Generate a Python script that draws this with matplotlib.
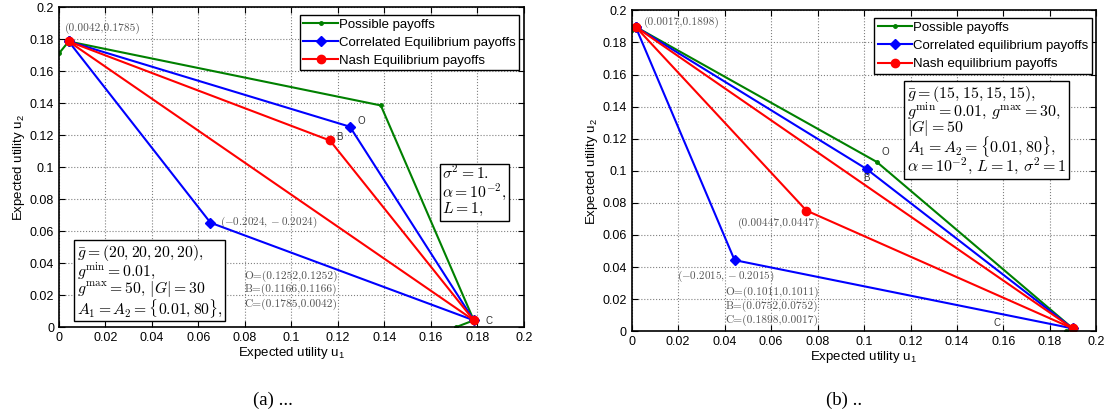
import numpy as np
import matplotlib
matplotlib.use('Agg')
import matplotlib.pyplot as plt

plt.rcParams['font.family'] = ['Liberation Sans', 'DejaVu Sans']
plt.rcParams['mathtext.fontset'] = 'cm'

# ---- data, panel (a) ----
a_top = (0.0042, 0.1785)
a_C = (0.1785, 0.0042)
a_poss_x = [0.0, 0.0042, 0.1385, 0.1785, 0.171]
a_poss_y = [0.171, 0.1785, 0.1385, 0.0042, 0.0]
a_corr_x = [0.0042, 0.1252, 0.1785, 0.0652, 0.0042]
a_corr_y = [0.1785, 0.1252, 0.0042, 0.0652, 0.1785]
a_nash_x = [0.0042, 0.1166, 0.1785]
a_nash_y = [0.1785, 0.1166, 0.0042]
a_notes = ['O=(0.1252,0.1252)', 'B=(0.1166,0.1166)', 'C=(0.1785,0.0042)']

# ---- data, panel (b) ----
b_top = (0.0017, 0.1898)
b_C = (0.1898, 0.0017)
b_poss_x = [0.0, 0.0017, 0.1055, 0.1898, 0.187]
b_poss_y = [0.188, 0.1898, 0.1055, 0.0017, 0.0]
b_corr_x = [0.0017, 0.1011, 0.1898, 0.0443, 0.0017]
b_corr_y = [0.1898, 0.1011, 0.0017, 0.0443, 0.1898]
b_nash_x = [0.0017, 0.0752, 0.1898]
b_nash_y = [0.1898, 0.0752, 0.0017]
b_notes = ['O=(0.1011,0.1011)', 'B=(0.0752,0.0752)', 'C=(0.1898,0.0017)']

ticks = [0, 0.02, 0.04, 0.06, 0.08, 0.1, 0.12, 0.14, 0.16, 0.18, 0.2]
tick_labels = ['0', '0.02', '0.04', '0.06', '0.08', '0.1', '0.12', '0.14', '0.16', '0.18', '0.2']

GRAY = '#555555'
LBL = dict(fontsize=8.2, color=GRAY, family=['cmr10', 'DejaVu Serif'], va='center')
PT = dict(fontsize=7, color='#333333', va='center')


def panel(ax, poss_x, poss_y, corr_x, corr_y, nash_x, nash_y, top, C, names):
    ax.plot(poss_x, poss_y, '.-', color='green', lw=1.5, ms=5, label='Possible payoffs')
    ax.plot(corr_x, corr_y, 'D-', color='blue', lw=1.5, ms=5, label=names[0])
    ax.plot(nash_x, nash_y, 'o-', color='red', lw=1.5, ms=6, label=names[1])
    ax.plot([top[0], C[0]], [top[1], C[1]], '-', color='red', lw=1.5)
    ax.set_xlim(0, 0.2)
    ax.set_ylim(0, 0.2)
    ax.set_xticks(ticks)
    ax.set_xticklabels(tick_labels)
    ax.set_yticks(ticks)
    ax.set_yticklabels(tick_labels)
    ax.tick_params(direction='in', top=True, right=True, labelsize=9, length=4)
    ax.grid(True, ls=':', color='gray', lw=0.8)
    for s in ax.spines.values():
        s.set_linewidth(1.2)
    ax.set_xlabel('Expected utility u$_\\mathregular{1}$', fontsize=9.5, labelpad=1)
    ax.set_ylabel('Expected utility u$_\\mathregular{2}$', fontsize=9.5, labelpad=2)
    ax.legend(loc='upper right', bbox_to_anchor=(0.99, 0.975), borderaxespad=0,
              fancybox=False, edgecolor='k', framealpha=1, fontsize=9.5,
              handlelength=2.6, labelspacing=0.45, borderpad=0.25, handletextpad=0.1)


fig = plt.figure(figsize=(11.12, 4.15), dpi=100)
ax1 = fig.add_axes([0.053, 0.212, 0.418, 0.771])
ax2 = fig.add_axes([0.568, 0.202, 0.418, 0.773])

# ---- (a) ----
panel(ax1, a_poss_x, a_poss_y, a_corr_x, a_corr_y, a_nash_x, a_nash_y, a_top, a_C,
      ['Correlated Equilibrium payoffs', 'Nash Equilibrium payoffs'])
ax1.text(0.0027, 0.1865, '(0.0042,0.1785)', **LBL)
ax1.text(0.0695, 0.0655, r'$(-0.2024,-0.2024)$', va='center', fontsize=8, color=GRAY)
for txt, yy in zip(a_notes, [0.0319, 0.0234, 0.0144]):
    ax1.text(0.080, yy, txt, **LBL)
ax1.text(0.1285, 0.1288, 'O', **PT)
ax1.text(0.1195, 0.1188, 'B', **PT)
ax1.text(0.1835, 0.0038, 'C', **PT)
ax1.text(0.038, 0.262,
         '$\\bar{g}=(20,20,20,20),$\n$g^{\\min}=0.01,$\n$g^{\\max}=50,\\,|G|=30$\n$A_1=A_2=\\{0.01,80\\},$',
         transform=ax1.transAxes, va='top', ha='left', fontsize=11.3, linespacing=0.85,
         bbox=dict(boxstyle='square,pad=0.15', fc='w', ec='k', lw=1))
ax1.text(0.825, 0.51, '$\\sigma^2=1.$\n$\\alpha=10^{-2},$\n$L=1,$',
         transform=ax1.transAxes, va='top', ha='left', fontsize=11.3, linespacing=0.95,
         bbox=dict(boxstyle='square,pad=0.15', fc='w', ec='k', lw=1))

# ---- (b) ----
panel(ax2, b_poss_x, b_poss_y, b_corr_x, b_corr_y, b_nash_x, b_nash_y, b_top, b_C,
      ['Correlated equilibrium payoffs', 'Nash equilibrium payoffs'])
ax2.text(0.0052, 0.1925, '(0.0017,0.1898)', **LBL)
ax2.text(0.0456, 0.0673, '(0.00447,0.0447)', **LBL)
ax2.text(0.0195, 0.0343, r'$(-0.2015,-0.2015)$', va='center', fontsize=8, color=GRAY)
for txt, yy in zip(b_notes, [0.0243, 0.0152, 0.0069]):
    ax2.text(0.0404, yy, txt, **LBL)
ax2.text(0.1075, 0.1115, 'O', **PT)
ax2.text(0.0995, 0.0953, 'B', **PT)
ax2.text(0.1555, 0.005, 'C', **PT)
ax2.text(0.592, 0.77,
         '$\\bar{g}=(15,15,15,15),$\n$g^{\\min}=0.01,\\,g^{\\max}=30,$\n$|G|=50$\n'
         '$A_1=A_2=\\{0.01,80\\},$\n$\\alpha=10^{-2},\\,L=1,\\,\\sigma^2=1$',
         transform=ax2.transAxes, va='top', ha='left', fontsize=11.5, linespacing=0.78,
         bbox=dict(boxstyle='square,pad=0.15', fc='w', ec='k', lw=1))

fig.text(273 / 1112, 1 - 400 / 415, '(a) ...', ha='center', va='center',
         family='Liberation Serif', fontsize=13.5)
fig.text(844 / 1112, 1 - 400 / 415, '(b) ..', ha='center', va='center',
         family='Liberation Serif', fontsize=13.5)

fig.savefig('out.png', dpi=100)
